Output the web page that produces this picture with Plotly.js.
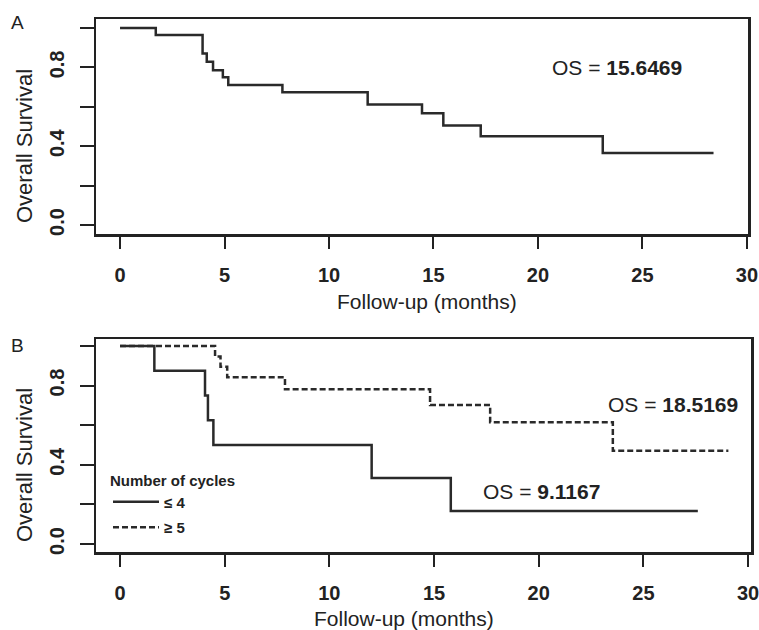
<!DOCTYPE html>
<html>
<head>
<meta charset="utf-8">
<script src="https://cdn.plot.ly/plotly-3.0.1.min.js"></script>
<style>html,body{margin:0;padding:0;background:#fff;}#chart{width:759px;height:630px;}</style>
</head>
<body>
<div id="chart"></div>
<script>
// Panel A: overall survival (Kaplan-Meier steps)
var monthsA = [0, 1.71, 3.95, 4.15, 4.45, 4.92, 5.18, 7.77, 11.85, 14.45, 15.47, 17.26, 23.1, 28.4];
var survA   = [1.0, 0.964, 0.871, 0.829, 0.786, 0.75, 0.711, 0.674, 0.612, 0.567, 0.505, 0.45, 0.366, 0.366];

// Panel B: by number of cycles
var monthsLE4 = [0, 1.64, 4.06, 4.2, 4.46, 12.02, 15.8, 27.6];
var survLE4   = [1.0, 0.875, 0.75, 0.625, 0.5, 0.333, 0.167, 0.167];
var monthsGE5 = [0, 4.54, 4.8, 5.12, 7.88, 14.81, 17.68, 23.54, 29.06];
var survGE5   = [1.0, 0.947, 0.895, 0.842, 0.781, 0.702, 0.615, 0.471, 0.471];

var xTicks = [0, 5, 10, 15, 20, 25, 30];
var yTicks = [0, 0.2, 0.4, 0.6, 0.8, 1.0];
var yTickText = ['0.0', '', '0.4', '', '0.8', ''];
var xTitle = 'Follow-up (months)';
var yTitle = 'Overall Survival';
var osA = 'OS = <b>15.6469</b>';
var osGE5 = 'OS = <b>18.5169</b>';
var osLE4 = 'OS = <b>9.1167</b>';
var legendTitle = 'Number of cycles';
var nameLE4 = '≤ 4';
var nameGE5 = '≥ 5';

var FONT = 'Liberation Sans, Arial, sans-serif';
var INK = '#222';
var W = 759, H = 630;
function px(v){ return v / W; }
function py(v){ return 1 - v / H; }

var traces = [
  {x: monthsA, y: survA, type: 'scatter', mode: 'lines', line: {shape: 'hv', color: '#2a2a2a', width: 2.5},
   xaxis: 'x', yaxis: 'y', showlegend: false, hoverinfo: 'skip'},
  {x: monthsLE4, y: survLE4, type: 'scatter', mode: 'lines', name: nameLE4, legendgroup: 'a',
   line: {shape: 'hv', color: '#2a2a2a', width: 2.5}, xaxis: 'x2', yaxis: 'y2'},
  {x: monthsGE5, y: survGE5, type: 'scatter', mode: 'lines', name: nameGE5, legendgroup: 'b',
   line: {shape: 'hv', color: '#2a2a2a', width: 2.5, dash: '6px,3px'}, xaxis: 'x2', yaxis: 'y2'}
];

function xAxis(domain, range, anchor){
  return {domain: domain, range: range, anchor: anchor, tickmode: 'array', tickvals: xTicks,
    ticks: 'outside', ticklen: 12, tickwidth: 2, tickcolor: INK,
    showline: true, mirror: true, linewidth: 2.5, linecolor: INK,
    showgrid: false, zeroline: false, ticklabelstandoff: 9, ticklabeloverflow: 'allow',
    tickfont: {family: FONT, size: 20, color: INK, weight: 'bold'}, fixedrange: true};
}
function yAxis(domain, range, anchor){
  return {domain: domain, range: range, anchor: anchor, tickmode: 'array', tickvals: yTicks, ticktext: yTickText,
    tickangle: -90, ticks: 'outside', ticklen: 14, tickwidth: 2, tickcolor: INK,
    showline: true, mirror: true, linewidth: 2.5, linecolor: INK,
    showgrid: false, zeroline: false, ticklabelstandoff: 8, ticklabeloverflow: 'allow',
    tickfont: {family: FONT, size: 20, color: INK, weight: 'bold'}, fixedrange: true};
}
function note(text, x, y, size, extra){
  var a = {text: text, xref: 'paper', yref: 'paper', x: px(x), y: py(y), xanchor: 'center', yanchor: 'middle',
    showarrow: false, font: {family: FONT, size: size, color: INK}};
  if (extra) for (var k in extra) a[k] = extra[k];
  return a;
}

var layout = {
  width: W, height: H,
  margin: {l: 0, r: 0, t: 0, b: 0},
  paper_bgcolor: '#fff', plot_bgcolor: '#fff',
  font: {family: FONT, color: INK},
  xaxis: xAxis([px(96), px(748)], [-1.15, 30.05], 'y'),
  yaxis: yAxis([py(234), py(19)], [-0.0457, 1.0457], 'x'),
  xaxis2: xAxis([px(96), px(751)], [-1.147, 30.14], 'y2'),
  yaxis2: yAxis([py(552), py(339)], [-0.0404, 1.035], 'x2'),
  showlegend: true,
  legend: {x: px(108), xanchor: 'left', y: py(466), yanchor: 'top', bgcolor: 'rgba(0,0,0,0)',
    borderwidth: 0, traceorder: 'grouped', tracegroupgap: 3, itemwidth: 46,
    font: {family: FONT, size: 15, color: INK, weight: 'bold'},
    title: {text: legendTitle, font: {family: FONT, size: 15, color: INK, weight: 'bold'}}},
  annotations: [
    note('A', 17, 23, 19),
    note('B', 17, 345, 19),
    note(xTitle, 427, 301, 21),
    note(xTitle, 404, 618, 21),
    note(yTitle, 24, 146, 22, {textangle: -90}),
    note(yTitle, 24, 465, 22, {textangle: -90}),
    {text: osA, xref: 'x', yref: 'y', x: 23.8, y: 0.797, xanchor: 'center', yanchor: 'middle', showarrow: false, font: {family: FONT, size: 21, color: INK}},
    {text: osGE5, xref: 'x2', yref: 'y2', x: 26.42, y: 0.702, xanchor: 'center', yanchor: 'middle', showarrow: false, font: {family: FONT, size: 21, color: INK}},
    {text: osLE4, xref: 'x2', yref: 'y2', x: 20.15, y: 0.264, xanchor: 'center', yanchor: 'middle', showarrow: false, font: {family: FONT, size: 21, color: INK}}
  ]
};

Plotly.newPlot('chart', traces, layout, {staticPlot: true, displayModeBar: false});
</script>
</body>
</html>
